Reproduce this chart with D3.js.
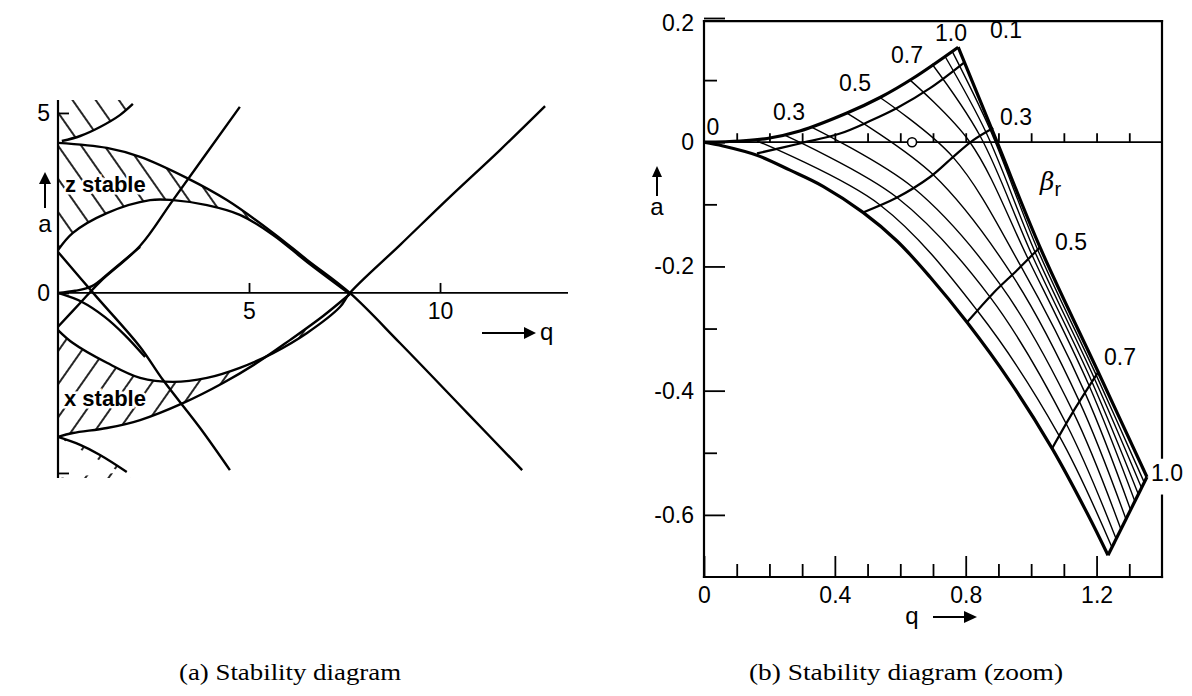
<!DOCTYPE html>
<html>
<head>
<meta charset="utf-8">
<script src="https://cdn.jsdelivr.net/npm/d3@7"></script>
<style>
  body { margin: 0; background: #fff; }
  svg { display: block; }
  .cap { font-family: "Liberation Serif", "DejaVu Serif", serif; font-size: 24px; }
  .lbl { font-family: "Liberation Sans", Arial, sans-serif; fill: #000; }
</style>
</head>
<body>
<svg id="fig" width="1192" height="696"></svg>
<script>
// ---- panel (a): full stability diagram, points are [q, a] ----
const zUpper = [[0, 4.17], [1.28, 4.03], [2.15, 3.78], [3.38, 3.19], [4.42, 2.58], [5.63, 1.67], [6.52, 0.92], [7.64, 0], [8.95, -1.39], [10.71, -3.33], [12.15, -4.92]];
const zLower = [[0, 1.19], [0.39, 1.67], [1.28, 2.22], [2.41, 2.58], [3.01, 2.58], [3.90, 2.44], [4.76, 2.17], [5.63, 1.61], [6.52, 0.86], [7.64, -0.03]];
const xUpper = [[0, -1.03], [0.39, -1.39], [1.28, -1.94], [2.15, -2.36], [3.01, -2.47], [3.90, -2.36], [4.76, -2.08], [5.63, -1.67], [6.52, -1.11], [7.38, -0.39], [7.64, 0], [8.95, 1.33], [10.26, 2.67], [11.57, 3.97], [12.75, 5.19]];
const xLower = [[0, -4.0], [0.39, -3.89], [1.28, -3.75], [2.15, -3.53], [3.27, -3.06], [4.32, -2.5], [5.21, -1.94], [6.07, -1.31], [6.94, -0.64], [7.64, -0.03]];
const zOuter = [[0.1, 4.22], [0.58, 4.36], [1.1, 4.61], [1.62, 4.94], [1.96, 5.25]];
const xOuter = [[0, -4.0], [0.58, -4.22], [1.1, -4.5], [1.8, -4.97]];
const riseLine = [[0, -0.94], [0.58, -0.28], [1.10, 0.31], [2.15, 1.31], [3.01, 2.58], [4.76, 5.17]];
const fallLine = [[0, 1.14], [0.97, -0.06], [2.15, -1.5], [2.75, -2.42], [3.72, -3.75], [4.5, -4.92]];
const originUp = [[0, 0], [0.45, 0.06], [0.89, 0.19], [1.36, 0.58], [2.15, 1.28]];
const originDown = [[0, 0], [0.63, -0.25], [1.23, -0.67], [1.75, -1.17], [2.28, -1.78]];
const aTicksQ = [5, 10];
const aTicksA = [5, 0, -5];

// ---- panel (b): zoom on the first stability region ----
const edgeTop = [[0, 0], [0.110, 0.002], [0.193, 0.006], [0.293, 0.018], [0.437, 0.047], [0.538, 0.072], [0.639, 0.103], [0.777, 0.153]];
const edgeRight = [[0.777, 0.153], [0.896, 0], [1.027, -0.169], [1.205, -0.370], [1.354, -0.539]];
const edgeLeft = [[0, 0], [0.058, -0.006], [0.162, -0.021], [0.263, -0.045], [0.364, -0.071], [0.486, -0.113], [0.590, -0.159], [0.691, -0.217], [0.804, -0.290], [0.935, -0.385], [1.064, -0.493], [1.171, -0.597], [1.235, -0.665]];
const edgeBottom = [[1.235, -0.665], [1.354, -0.539]];
// lines running across (labelled 0.1 ... 0.7 on the right side)
const cross01 = [[0.162, -0.018], [0.293, -0.002], [0.416, 0.014], [0.507, 0.034], [0.590, 0.055], [0.691, 0.087], [0.797, 0.129]];
const cross03 = [[0.486, -0.113], [0.590, -0.089], [0.691, -0.056], [0.761, -0.024], [0.822, 0.003], [0.884, 0.023]];
const cross05 = [[0.804, -0.290], [0.884, -0.243], [0.957, -0.206], [1.027, -0.169]];
const cross07 = [[1.064, -0.493], [1.134, -0.429], [1.205, -0.370]];
// lines running down from the top edge (0.1 ... 0.9)
const down01 = [[0.162, 0.002], [0.538, -0.101], [0.838, -0.273], [1.085, -0.472], [1.247, -0.652]];
const down02 = [[0.248, 0.011], [0.590, -0.089], [0.874, -0.249], [1.108, -0.454], [1.260, -0.639]];
const down03 = [[0.330, 0.024], [0.639, -0.073], [0.908, -0.231], [1.129, -0.435], [1.275, -0.624]];
const down04 = [[0.437, 0.047], [0.700, -0.052], [0.942, -0.214], [1.148, -0.418], [1.290, -0.607]];
const down05 = [[0.538, 0.072], [0.761, -0.024], [0.969, -0.200], [1.165, -0.404], [1.304, -0.592]];
const down06 = [[0.630, 0.100], [0.813, 0], [0.991, -0.188], [1.178, -0.393], [1.317, -0.578]];
const down07 = [[0.697, 0.126], [0.844, 0.010], [1.003, -0.182], [1.186, -0.386], [1.328, -0.567]];
const down08 = [[0.737, 0.138], [0.862, 0.016], [1.012, -0.177], [1.193, -0.380], [1.338, -0.557]];
const down09 = [[0.758, 0.147], [0.874, 0.021], [1.020, -0.173], [1.199, -0.375], [1.346, -0.548]];
const marker = [0.636, 0];
const bMajorA = [0.2, 0, -0.2, -0.4, -0.6];
const bMinorA = [0.1, -0.1, -0.3, -0.5];
const bMajorQ = [0, 0.4, 0.8, 1.2];
const bMinorQ = [0.1, 0.2, 0.3, 0.5, 0.6, 0.7, 0.9, 1.0, 1.1, 1.3];
const bZeroTicks = [0.1, 0.2, 0.3, 0.4, 0.5, 0.6, 0.7, 0.8, 0.9, 1.0, 1.1, 1.2, 1.3];

const svg = d3.select('#fig');
const defs = svg.append('defs');

function hatch(id, angle) {
  const p = defs.append('pattern')
    .attr('id', id)
    .attr('patternUnits', 'userSpaceOnUse')
    .attr('width', 19)
    .attr('height', 19)
    .attr('patternTransform', `rotate(${angle})`);
  p.append('line')
    .attr('x1', 2).attr('y1', 0).attr('x2', 2).attr('y2', 19)
    .attr('stroke', '#000').attr('stroke-width', 1.7);
}
hatch('hatchBack', -35);
hatch('hatchFwd', 35);

// ================= panel (a) =================
const xa = d3.scaleLinear().domain([0, 13.35]).range([58, 568]);
const ya = d3.scaleLinear().domain([-5.14, 5.36]).range([478, 100]);
const lineA = d3.line().x(d => xa(d[0])).y(d => ya(d[1])).curve(d3.curveCatmullRom.alpha(0.5));
const ga = svg.append('g');

function region(g, line, a, b, fill) {
  const back = b.slice().reverse();
  const d = line(a) + 'L' + line(back).slice(1) + 'Z';
  g.append('path').attr('d', d).attr('fill', `url(#${fill})`).attr('stroke', 'none');
}
region(ga, lineA, zUpper.slice(0, 8), zLower, 'hatchBack');
region(ga, lineA, xUpper.slice(0, 11), xLower, 'hatchFwd');
region(ga, lineA, [[0, 5.36], [0, 4.17]].concat(zOuter), [[2.1, 5.36]], 'hatchBack');
region(ga, lineA, xOuter, [[1.9, -5.14], [0, -5.14]], 'hatchFwd');

// axes
ga.append('line').attr('x1', xa(0)).attr('x2', xa(0)).attr('y1', ya(5.36)).attr('y2', ya(-5.14))
  .attr('stroke', '#000').attr('stroke-width', 2.2);
ga.append('line').attr('x1', xa(0)).attr('x2', xa(13.35)).attr('y1', ya(0)).attr('y2', ya(0))
  .attr('stroke', '#000').attr('stroke-width', 1.8);

const axA = ga.append('g').attr('class', 'lbl').attr('transform', `translate(0,${ya(0)})`)
  .call(d3.axisBottom(xa).tickValues(aTicksQ).tickSize(-10).tickPadding(10).tickFormat(d3.format('d')));
const ayA = ga.append('g').attr('class', 'lbl').attr('transform', `translate(${xa(0)},0)`)
  .call(d3.axisLeft(ya).tickValues(aTicksA).tickSize(-11).tickPadding(8).tickFormat(d => (d < 0 ? '' : d)));
[axA, ayA].forEach(ax => {
  ax.select('.domain').remove();
  ax.selectAll('line').attr('stroke', '#000').attr('stroke-width', 1.8);
  ax.selectAll('text').attr('font-size', 23).attr('fill', '#000');
});

[zUpper, zLower, xUpper, xLower, zOuter, xOuter, riseLine, fallLine, originUp, originDown].forEach(c => {
  ga.append('path').attr('d', lineA(c)).attr('fill', 'none').attr('stroke', '#000').attr('stroke-width', 2.4);
});

ga.append('text').attr('class', 'lbl').attr('x', 65).attr('y', 192).attr('font-size', 22)
  .attr('font-weight', 'bold').attr('stroke', '#fff').attr('stroke-width', 5).attr('paint-order', 'stroke')
  .text('z stable');
ga.append('text').attr('class', 'lbl').attr('x', 64).attr('y', 406).attr('font-size', 22)
  .attr('font-weight', 'bold').attr('stroke', '#fff').attr('stroke-width', 5).attr('paint-order', 'stroke')
  .text('x stable');
// axis names with arrows
ga.append('text').attr('class', 'lbl').attr('x', 45).attr('y', 232).attr('text-anchor', 'middle').attr('font-size', 24).text('a');
ga.append('line').attr('x1', 45).attr('x2', 45).attr('y1', 208).attr('y2', 176).attr('stroke', '#000').attr('stroke-width', 2);
ga.append('path').attr('d', 'M39,184 L45,172 L51,184 Z').attr('fill', '#000');
ga.append('line').attr('x1', 482).attr('x2', 528).attr('y1', 333).attr('y2', 333).attr('stroke', '#000').attr('stroke-width', 2);
ga.append('path').attr('d', 'M524,327 L536,333 L524,339 Z').attr('fill', '#000');
ga.append('text').attr('class', 'lbl').attr('x', 540).attr('y', 340).attr('font-size', 24).text('q');

// ================= panel (b) =================
const xb = d3.scaleLinear().domain([0, 1.4]).range([704, 1162]);
const yb = d3.scaleLinear().domain([-0.7, 0.2]).range([577, 18]);
const lineB = d3.line().x(d => xb(d[0])).y(d => yb(d[1])).curve(d3.curveCatmullRom.alpha(0.5));
const gb = svg.append('g');

// frame: left and bottom axes, top rule, right rule broken by the "1.0" label
const frame = [
  [[0, 0.195], [0, -0.7]], [[0, -0.7], [1.4, -0.7]], [[0, 0.195], [1.4, 0.195]],
  [[1.4, 0.195], [1.4, -0.508]], [[1.4, -0.569], [1.4, -0.7]]
];
frame.forEach(([p, q]) => {
  gb.append('line').attr('x1', xb(p[0])).attr('y1', yb(p[1])).attr('x2', xb(q[0])).attr('y2', yb(q[1]))
    .attr('stroke', '#000').attr('stroke-width', 2.2).attr('stroke-linecap', 'square');
});
gb.append('line').attr('x1', xb(0)).attr('x2', xb(1.4)).attr('y1', yb(0)).attr('y2', yb(0))
  .attr('stroke', '#000').attr('stroke-width', 1.8);

function styleAxis(ax, labels) {
  ax.select('.domain').remove();
  ax.selectAll('line').attr('stroke', '#000').attr('stroke-width', 1.8);
  ax.selectAll('text').attr('font-size', 23).attr('fill', '#000');
  if (!labels) ax.selectAll('text').remove();
}
const fmtB = d => (d === 0 ? '0' : d3.format('.1f')(d).replace('\u2212', '-'));
const yLab = gb.append('g').attr('class', 'lbl').attr('transform', `translate(${xb(0)},0)`)
  .call(d3.axisLeft(yb).tickValues(bMajorA).tickSize(-21).tickPadding(10).tickFormat(fmtB));
styleAxis(yLab, true);
yLab.selectAll('text').filter(d => d === 0.2).attr('dy', '0.55em');
styleAxis(gb.append('g').attr('transform', `translate(${xb(0)},0)`)
  .call(d3.axisLeft(yb).tickValues(bMinorA).tickSize(-13)), false);
styleAxis(gb.append('g').attr('class', 'lbl').attr('transform', `translate(0,${yb(-0.7)})`)
  .call(d3.axisBottom(xb).tickValues(bMajorQ).tickSize(-21).tickPadding(10).tickFormat(fmtB)), true);
styleAxis(gb.append('g').attr('transform', `translate(0,${yb(-0.7)})`)
  .call(d3.axisBottom(xb).tickValues(bMinorQ).tickSize(-13)), false);
styleAxis(gb.append('g').attr('transform', `translate(0,${yb(0)})`)
  .call(d3.axisBottom(xb).tickValues(bZeroTicks).tickSize(-9)), false);

[down01, down02, down03, down04, down05, down06, down07, down08, down09].forEach(c => {
  gb.append('path').attr('d', lineB(c)).attr('fill', 'none').attr('stroke', '#000').attr('stroke-width', 1.4);
});
[cross01, cross03, cross05, cross07].forEach(c => {
  gb.append('path').attr('d', lineB(c)).attr('fill', 'none').attr('stroke', '#000').attr('stroke-width', 2.2);
});
[edgeTop, edgeRight, edgeLeft, edgeBottom].forEach(c => {
  gb.append('path').attr('d', lineB(c)).attr('fill', 'none').attr('stroke', '#000').attr('stroke-width', 3.2)
    .attr('stroke-linejoin', 'round');
});
gb.append('circle').attr('cx', xb(marker[0])).attr('cy', yb(marker[1])).attr('r', 4.5)
  .attr('fill', '#fff').attr('stroke', '#000').attr('stroke-width', 1.6);

const bLabels = [
  ['0', 713, 135], ['0.3', 789, 120], ['0.5', 855, 91], ['0.7', 907, 63], ['1.0', 951, 41],
  ['0.1', 1006, 38], ['0.3', 1016, 125], ['0.5', 1071, 250], ['0.7', 1120, 365], ['1.0', 1167, 481]
];
bLabels.forEach(([t, x, y]) => {
  gb.append('text').attr('class', 'lbl').attr('x', x).attr('y', y).attr('text-anchor', 'middle')
    .attr('font-size', 23).text(t);
});
const beta = gb.append('text').attr('class', 'lbl').attr('x', 1040).attr('y', 190).attr('font-size', 25);
beta.append('tspan').attr('font-style', 'italic').attr('font-family', '"DejaVu Serif", serif').text('β');
beta.append('tspan').attr('dy', 6).attr('font-size', 20).text('r');

gb.append('text').attr('class', 'lbl').attr('x', 657).attr('y', 215).attr('text-anchor', 'middle').attr('font-size', 24).text('a');
gb.append('line').attr('x1', 657).attr('x2', 657).attr('y1', 196).attr('y2', 170).attr('stroke', '#000').attr('stroke-width', 2);
gb.append('path').attr('d', 'M652,177 L657,166 L662,177 Z').attr('fill', '#000');
gb.append('text').attr('class', 'lbl').attr('x', 912).attr('y', 624).attr('text-anchor', 'middle').attr('font-size', 24).text('q');
gb.append('line').attr('x1', 933).attr('x2', 968).attr('y1', 617).attr('y2', 617).attr('stroke', '#000').attr('stroke-width', 2);
gb.append('path').attr('d', 'M964,611 L977,617 L964,623 Z').attr('fill', '#000');

// captions
svg.append('text').attr('class', 'cap').attr('x', 290).attr('y', 680).attr('text-anchor', 'middle')
  .attr('textLength', 222).attr('lengthAdjust', 'spacingAndGlyphs').text('(a) Stability diagram');
svg.append('text').attr('class', 'cap').attr('x', 906).attr('y', 680).attr('text-anchor', 'middle')
  .attr('textLength', 314).attr('lengthAdjust', 'spacingAndGlyphs').text('(b) Stability diagram (zoom)');
</script>
</body>
</html>
